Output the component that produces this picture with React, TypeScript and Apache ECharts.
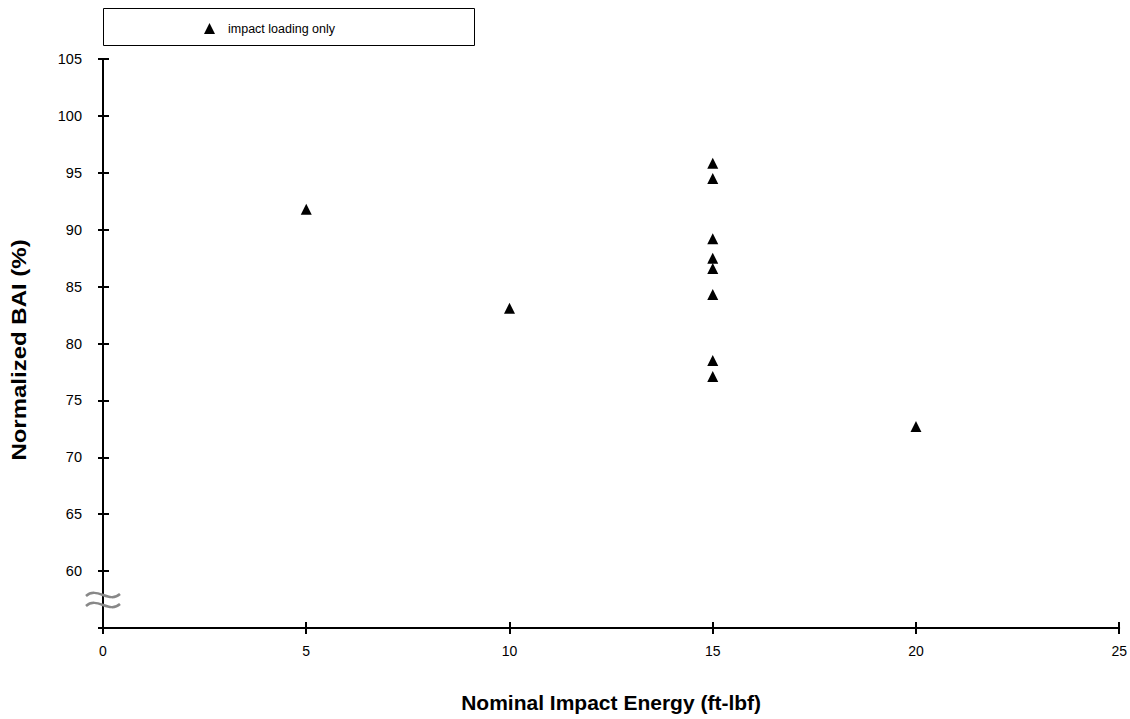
import React, { useEffect, useRef } from "react";
import * as echarts from "echarts";

const seriesName = "impact loading only";
const energies = [5, 10, 15, 15, 15, 15, 15, 15, 15, 15, 20];
const bai = [91.8, 83.1, 95.85, 94.5, 89.2, 87.5, 86.6, 84.3, 78.5, 77.1, 72.7];
const xTitle = "Nominal Impact Energy (ft-lbf)";
const yTitle = "Normalized BAI (%)";

export default function App() {
  const ref = useRef<HTMLDivElement>(null);
  useEffect(() => {
    if (!ref.current) return;
    const chart = echarts.init(ref.current, undefined, { renderer: "svg" });
    const font = "'Liberation Sans', Arial, sans-serif";
    const data = energies.map((x, i) => [x, bai[i]]);
    const axisCommonX = { type: "value", min: 0, max: 25, interval: 5 } as any;
    const axisCommonY = { type: "value", min: 55, max: 105, interval: 5 } as any;
    chart.setOption({
      animation: false,
      backgroundColor: "#ffffff",
      textStyle: { fontFamily: font },
      grid: { left: 103, right: 8, top: 59, bottom: 91, containLabel: false },
      legend: {
        left: 199,
        top: 17,
        itemWidth: 11,
        itemHeight: 11,
        icon: "triangle",
        textStyle: { fontSize: 12.5, color: "#000", fontFamily: font, padding: [0, 0, 0, 8] },
        data: [seriesName],
      },
      xAxis: [
        {
          ...axisCommonX,
          position: "bottom",
          name: xTitle,
          nameLocation: "middle",
          nameGap: 64,
          nameTextStyle: { fontSize: 21, fontWeight: "bold", color: "#000", fontFamily: font },
          axisLine: { show: true, lineStyle: { color: "#000", width: 2 } },
          axisTick: { show: true, inside: false, length: 6, lineStyle: { color: "#000", width: 2 } },
          axisLabel: { fontSize: 14, color: "#000", margin: 16, fontFamily: font },
          splitLine: { show: false },
        },
        {
          ...axisCommonX,
          position: "bottom",
          axisLine: { show: false },
          axisTick: { show: true, inside: true, length: 6, lineStyle: { color: "#000", width: 2 } },
          axisLabel: { show: false },
          splitLine: { show: false },
        },
      ],
      yAxis: [
        {
          ...axisCommonY,
          position: "left",
          axisLine: { show: true, lineStyle: { color: "#000", width: 2 } },
          axisTick: { show: true, inside: false, length: 5, lineStyle: { color: "#000", width: 2 } },
          axisLabel: {
            fontSize: 14.5,
            color: "#000",
            margin: 21,
            fontFamily: font,
            formatter: (v: number) => (v === 55 ? "" : String(v)),
          },
          splitLine: { show: false },
        },
        {
          ...axisCommonY,
          position: "left",
          axisLine: { show: false },
          axisTick: { show: true, inside: true, length: 6, lineStyle: { color: "#000", width: 2 } },
          axisLabel: { show: false },
          splitLine: { show: false },
        },
      ],
      graphic: [
        {
          type: "text",
          x: 19,
          y: 350,
          rotation: Math.PI / 2,
          scaleX: 1.2,
          style: {
            text: yTitle,
            font: "bold 20px 'Liberation Sans', Arial, sans-serif",
            fill: "#000",
            textAlign: "center",
            textVerticalAlign: "middle",
          },
          z: 10,
        },
        {
          type: "rect",
          shape: { x: 103.5, y: 8.5, width: 371, height: 37 },
          style: { fill: "none", stroke: "#000", lineWidth: 1 },
          z: 10,
        },
        {
          type: "bezierCurve",
          shape: { x1: 86, y1: 596, cpx1: 97, cpy1: 586, cpx2: 109, cpy2: 604, x2: 120, y2: 594 },
          style: { stroke: "#888", lineWidth: 2.5, fill: "none" },
          z: 10,
        },
        {
          type: "bezierCurve",
          shape: { x1: 86, y1: 606, cpx1: 97, cpy1: 596, cpx2: 109, cpy2: 614, x2: 120, y2: 604 },
          style: { stroke: "#888", lineWidth: 2.5, fill: "none" },
          z: 10,
        },
      ],
      series: [
        {
          name: seriesName,
          type: "scatter",
          symbol: "triangle",
          symbolSize: [11, 11],
          itemStyle: { color: "#000", opacity: 1 },
          data,
        },
      ],
    });
    return () => chart.dispose();
  }, []);
  return <div ref={ref} style={{ width: 1130, height: 719, position: "absolute", left: 0, top: 0 }} />;
}
